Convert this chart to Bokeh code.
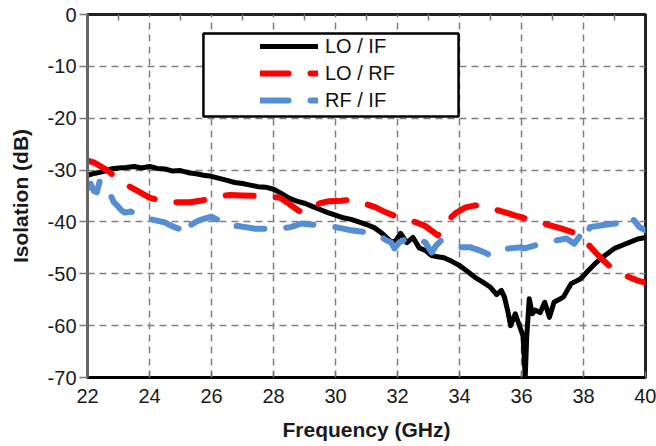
from bokeh.plotting import figure
from bokeh.models import Range1d, FixedTicker, LinearAxis, Legend, LegendItem, BoxAnnotation
from bokeh.embed import file_html
from bokeh.resources import INLINE

# ---------------- data ----------------
x_ticks = [22, 24, 26, 28, 30, 32, 34, 36, 38, 40]
x_minor = [23, 25, 27, 29, 31, 33, 35, 37, 39]
y_ticks = [0, -10, -20, -30, -40, -50, -60, -70]

lo_if_f = [22.0, 22.25, 22.5, 22.75, 23.0, 23.25, 23.5, 23.75, 24.0, 24.25, 24.5, 24.75,
           25.0, 25.25, 25.5, 25.75, 26.0, 26.25, 26.5, 26.75, 27.0, 27.25, 27.5, 27.75,
           28.0, 28.25, 28.5, 28.75, 29.0, 29.25, 29.5, 29.75, 30.0, 30.25, 30.5, 30.75,
           31.0, 31.25, 31.5, 31.75, 31.9, 32.1, 32.3, 32.5, 32.7, 32.9, 33.1, 33.3, 33.5,
           33.75, 34.0, 34.25, 34.5, 34.75, 35.0, 35.2, 35.35, 35.45, 35.55, 35.65, 35.8,
           35.95, 36.05, 36.12, 36.17, 36.25, 36.35, 36.45, 36.6, 36.75, 36.9, 37.05, 37.35,
           37.6, 37.9, 38.15, 38.35, 38.55, 38.8, 39.0, 39.25, 39.5, 39.75, 40.0]
lo_if_db = [-31.0, -30.6, -30.3, -29.8, -29.6, -29.5, -29.3, -29.6, -29.3, -29.7, -29.8, -30.2,
            -30.1, -30.5, -30.7, -31.0, -31.2, -31.6, -32.0, -32.4, -32.6, -32.9, -33.2, -33.3,
            -33.7, -34.5, -35.4, -36.0, -36.4, -37.0, -37.6, -38.2, -38.7, -39.2, -39.5, -40.0,
            -40.5, -41.1, -42.2, -43.6, -44.0, -42.2, -44.0, -43.0, -45.0, -45.5, -46.5, -46.7, -46.9,
            -47.6, -48.4, -49.5, -50.7, -51.6, -52.6, -54.0, -53.2, -54.5, -57.0, -60.0, -57.7,
            -60.3, -62.0, -70.0, -62.0, -54.8, -57.7, -57.0, -57.5, -55.5, -58.4, -55.5, -54.5,
            -51.9, -51.0, -49.4, -48.2, -47.1, -46.0, -45.1, -44.5, -43.9, -43.3, -43.0]

lo_rf_f = [22.0, 22.2, 22.4, 22.55, 22.75, 22.9, 23.05, 23.2, 23.45, 23.7, 24.0, 24.35, 24.8,
           25.3, 25.65, 26.0, 26.3, 26.6, 27.0, 27.5, 27.9, 28.2, 28.5, 28.8, 28.95, 29.2, 29.5,
           29.8, 30.2, 30.5, 30.7, 31.0, 31.3, 31.6, 31.9, 32.15, 32.4, 32.65, 32.9, 33.1, 33.3,
           33.45, 33.6, 33.75, 33.9, 34.2, 34.5, 34.85, 35.2, 35.5, 35.8, 36.0, 36.3, 36.6, 36.95,
           37.3, 37.75, 38.1, 38.3, 38.55, 38.8, 39.0, 39.25, 39.5, 39.75, 40.0]
lo_rf_db = [-28.2, -28.5, -29.2, -29.7, -30.6, -31.4, -32.0, -32.6, -33.5, -34.3, -35.3, -35.9, -36.2,
            -36.2, -35.9, -35.5, -35.0, -34.8, -34.9, -35.0, -35.2, -35.3, -36.5, -37.8, -38.2, -37.3, -36.4,
            -36.0, -35.9, -35.7, -36.1, -36.6, -37.2, -38.1, -38.8, -39.2, -39.7, -40.2, -40.8, -41.7, -42.6,
            -41.6, -40.3, -39.0, -38.2, -37.2, -36.8, -37.2, -37.7, -38.2, -38.8, -39.1, -39.6, -40.1, -40.7,
            -41.3, -42.2, -44.0, -45.3, -46.9, -48.3, -49.4, -50.1, -50.7, -51.3, -51.7]

rf_if_f = [22.0, 22.1, 22.2, 22.3, 22.4, 22.55, 22.65, 22.75, 22.85, 22.95, 23.1, 23.2, 23.4, 23.55,
           23.75, 23.9, 24.05, 24.2, 24.35, 24.5, 24.65, 24.8, 24.95, 25.1, 25.2, 25.35, 25.5, 25.6,
           25.8, 26.0, 26.15, 26.3, 26.45, 26.6, 26.85, 27.1, 27.4, 27.75, 28.05, 28.3, 28.55, 28.75,
           28.9, 29.2, 29.5, 29.75, 30.0, 30.25, 30.5, 30.75, 31.0, 31.2, 31.4, 31.6, 31.8, 31.9, 32.05,
           32.3, 32.6, 32.9, 33.1, 33.25, 33.4, 33.7, 34.0, 34.35, 34.65, 34.85, 35.0, 35.15, 35.3, 35.6,
           36.0, 36.1, 36.45, 36.8, 37.1, 37.45, 37.7, 37.9, 38.1, 38.2, 38.55, 39.0, 39.35, 39.5, 39.65,
           39.8, 40.0]
rf_if_db = [-33.5, -32.6, -34.0, -34.3, -32.0, -32.8, -33.4, -34.9, -36.2, -36.8, -37.8, -38.2, -38.0, -38.4,
            -38.8, -39.1, -39.5, -39.7, -39.9, -40.1, -40.6, -41.0, -41.3, -40.3, -41.6, -40.5, -40.0, -39.7,
            -39.3, -39.0, -39.5, -39.7, -39.7, -40.7, -40.8, -41.0, -41.3, -41.3, -41.0, -41.2, -41.0, -40.6,
            -40.3, -40.5, -40.7, -40.9, -41.0, -41.3, -41.6, -41.8, -42.0, -42.3, -42.6, -43.4, -44.0, -45.1, -44.0,
            -43.2, -43.0, -44.0, -45.9, -44.5, -43.6, -44.0, -44.9, -44.9, -45.5, -46.0, -46.5, -45.8, -45.5, -45.1,
            -44.9, -45.1, -44.5, -44.0, -43.6, -43.2, -44.2, -42.6, -43.6, -41.0, -40.7, -40.3, -40.3, -39.1, -39.8,
            -41.0, -41.6]

series_names = ["LO / IF", "LO / RF", "RF / IF"]

# ---------------- figure ----------------
FONT = "Liberation Sans"
p = figure(width=656, height=446, x_range=Range1d(22, 40), y_range=Range1d(-70, 0),
           output_backend="svg", toolbar_location=None,
           min_border_left=87, min_border_right=11, min_border_top=14, min_border_bottom=69)
p.background_fill_color = "white"
p.border_fill_color = "white"
p.outline_line_color = "#222222"
p.outline_line_width = 3

# axes
p.xaxis.ticker = FixedTicker(ticks=x_ticks)
p.yaxis.ticker = FixedTicker(ticks=y_ticks)
p.yaxis.major_label_overrides = {v: str(v) for v in y_ticks}
for ax in (p.xaxis[0], p.yaxis[0]):
    ax.major_label_text_font = FONT
    ax.major_label_text_font_size = "20px"
    ax.major_label_text_color = "#1a1a1a"
    ax.axis_label_text_font = FONT
    ax.axis_label_text_font_size = "21px"
    ax.axis_label_text_font_style = "bold"
    ax.axis_label_text_color = "#1a1a1a"
    ax.minor_tick_line_color = None
    ax.major_tick_line_color = "#777777"
    ax.major_tick_line_width = 1.5

p.xaxis.axis_label = "Frequency (GHz)"
p.xaxis.major_tick_in = 6
p.xaxis.major_tick_out = 0
p.xaxis.major_label_standoff = 11
p.xaxis.axis_label_standoff = 12
p.xaxis.axis_line_color = "black"
p.xaxis.axis_line_width = 3

p.yaxis.axis_label = "Isolation (dB)"
p.yaxis.major_tick_in = 0
p.yaxis.major_tick_out = 8
p.yaxis.major_label_standoff = 3
p.yaxis.axis_label_standoff = 13
p.yaxis.axis_line_color = "#666666"
p.yaxis.axis_line_width = 3

# top axis: only short inward ticks at the odd frequencies
top = LinearAxis(ticker=FixedTicker(ticks=[], minor_ticks=x_minor),
                 major_label_standoff=0, major_tick_in=0, major_tick_out=0,
                 minor_tick_in=6, minor_tick_out=0,
                 minor_tick_line_color="#777777", minor_tick_line_width=1.5,
                 axis_line_color=None)
p.add_layout(top, "above")

# grid
p.xgrid.ticker = FixedTicker(ticks=x_ticks[1:-1])
p.ygrid.ticker = FixedTicker(ticks=y_ticks[1:-1])
for g in (p.xgrid[0], p.ygrid[0]):
    g.grid_line_color = "#808080"
    g.grid_line_dash = "7 5"
    g.grid_line_width = 1.5

# legend box
box = BoxAnnotation(left=25.74, right=33.97, top=-3.66, bottom=-19.67,
                    fill_color="white", fill_alpha=1.0,
                    line_color="black", line_alpha=1.0, line_width=2.5)
p.add_layout(box)

# series
r1 = p.line(lo_if_f, lo_if_db, line_color="black", line_width=5,
            line_join="round", line_cap="round")
r2 = p.line(lo_rf_f, lo_rf_db, line_color="#FF0000", line_width=6,
            line_join="round", line_cap="round", line_dash="28 22")
r3 = p.line(rf_if_f, rf_if_db, line_color="#558ED5", line_width=6,
            line_join="round", line_cap="round", line_dash="28 22")

legend = Legend(items=[LegendItem(label=series_names[0], renderers=[r1]),
                       LegendItem(label=series_names[1], renderers=[r2]),
                       LegendItem(label=series_names[2], renderers=[r3])],
                location=(173, 264), padding=0, spacing=1, margin=0,
                glyph_width=58, glyph_height=26, label_standoff=7,
                label_text_font=FONT, label_text_font_size="20px", label_text_color="#111111",
                border_line_alpha=0, background_fill_alpha=0)
p.add_layout(legend)

open("out.html", "w").write(file_html(p, INLINE))
